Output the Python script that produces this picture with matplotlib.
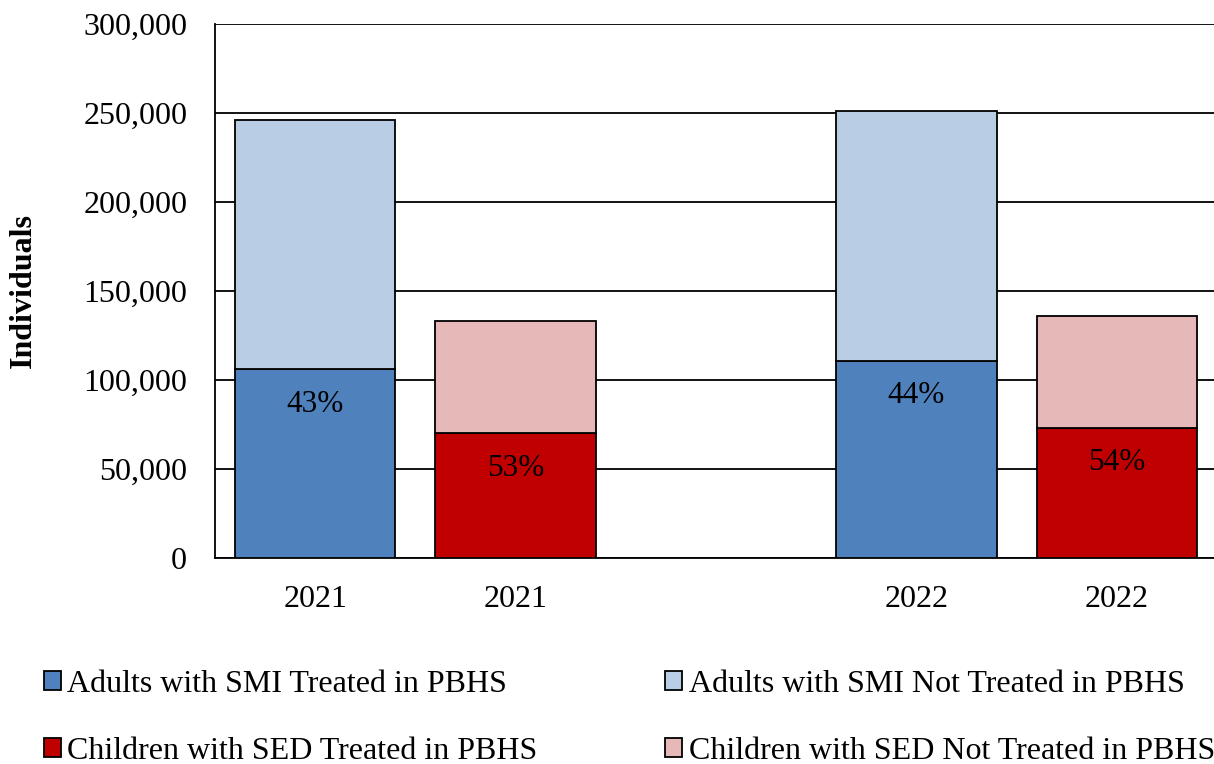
import matplotlib
matplotlib.use("Agg")
import matplotlib.pyplot as plt
import numpy as np

categories = ["2021", "2021", "", "2022", "2022"]
adults_treated = [106000, 0, 0, 110700, 0]
adults_not = [140000, 0, 0, 140400, 0]
children_treated = [0, 70000, 0, 0, 73000]
children_not = [0, 63200, 0, 0, 63000]
pct_labels = ["43%", "53%", "", "44%", "54%"]

plt.rcParams['font.family'] = ['Liberation Serif', 'DejaVu Serif']

W, H = 1214, 764
fig = plt.figure(figsize=(W / 100, H / 100), dpi=100)
ax = fig.add_axes([215 / W, 1 - 558 / H, (1217 - 215) / W, (558 - 24) / H])

x = np.arange(len(categories))
bw = 0.8
ec = "black"
lw = 1.3
idx_a = [0, 3]
idx_c = [1, 4]
b1 = ax.bar(x[idx_a], [adults_treated[i] for i in idx_a], bw, color="#4F81BD", edgecolor=ec, linewidth=lw, zorder=3,
            label="Adults with SMI Treated in PBHS")
b2 = ax.bar(x[idx_a], [adults_not[i] for i in idx_a], bw, bottom=[adults_treated[i] for i in idx_a], color="#B9CDE5",
            edgecolor=ec, linewidth=lw, zorder=3, label="Adults with SMI Not Treated in PBHS")
b3 = ax.bar(x[idx_c], [children_treated[i] for i in idx_c], bw, color="#C00000", edgecolor=ec, linewidth=lw, zorder=3,
            label="Children with SED Treated in PBHS")
b4 = ax.bar(x[idx_c], [children_not[i] for i in idx_c], bw, bottom=[children_treated[i] for i in idx_c],
            color="#E6B9B8", edgecolor=ec, linewidth=lw, zorder=3, label="Children with SED Not Treated in PBHS")

for i in range(len(categories)):
    if pct_labels[i]:
        top = adults_treated[i] + children_treated[i]
        ax.annotate(pct_labels[i], (x[i], top), xytext=(0, -25), textcoords="offset points",
                    ha="center", va="center", fontsize=22.5, color="black", zorder=4)

ax.set_xlim(-0.5, 4.5)
ax.set_ylim(0, 300000)
ax.set_yticks(np.arange(0, 300001, 50000))
ax.set_yticklabels([f"{v:,}" for v in range(0, 300001, 50000)])
ax.set_xticks([0, 1, 3, 4])
ax.set_xticklabels([categories[i] for i in [0, 1, 3, 4]])
ax.tick_params(axis="both", length=0, labelsize=23)
ax.tick_params(axis="y", pad=20)
ax.tick_params(axis="x", pad=19.5)
ax.yaxis.grid(True, color="black", linewidth=1.3, zorder=0)
ax.set_axisbelow(True)
for s in ["top", "right"]:
    ax.spines[s].set_visible(False)
ax.spines["left"].set_linewidth(1.3)
ax.spines["bottom"].set_linewidth(1.3)
ax.set_ylabel("Individuals", fontsize=23, fontweight="bold", va="center")
ax.yaxis.set_label_coords((23 - 215) / 1002, 0.5)

handles = [b1, b3, b2, b4]
fig.legend(handles, [h.get_label() for h in handles], ncol=2, loc="upper left",
           bbox_to_anchor=(44 / W, 1 - 670 / H), frameon=False, fontsize=23,
           handlelength=0.53, handleheight=0.53, handletextpad=0.2, columnspacing=4.0,
           labelspacing=1.18, borderaxespad=0, borderpad=0)

fig.savefig("out.png", dpi=100)
